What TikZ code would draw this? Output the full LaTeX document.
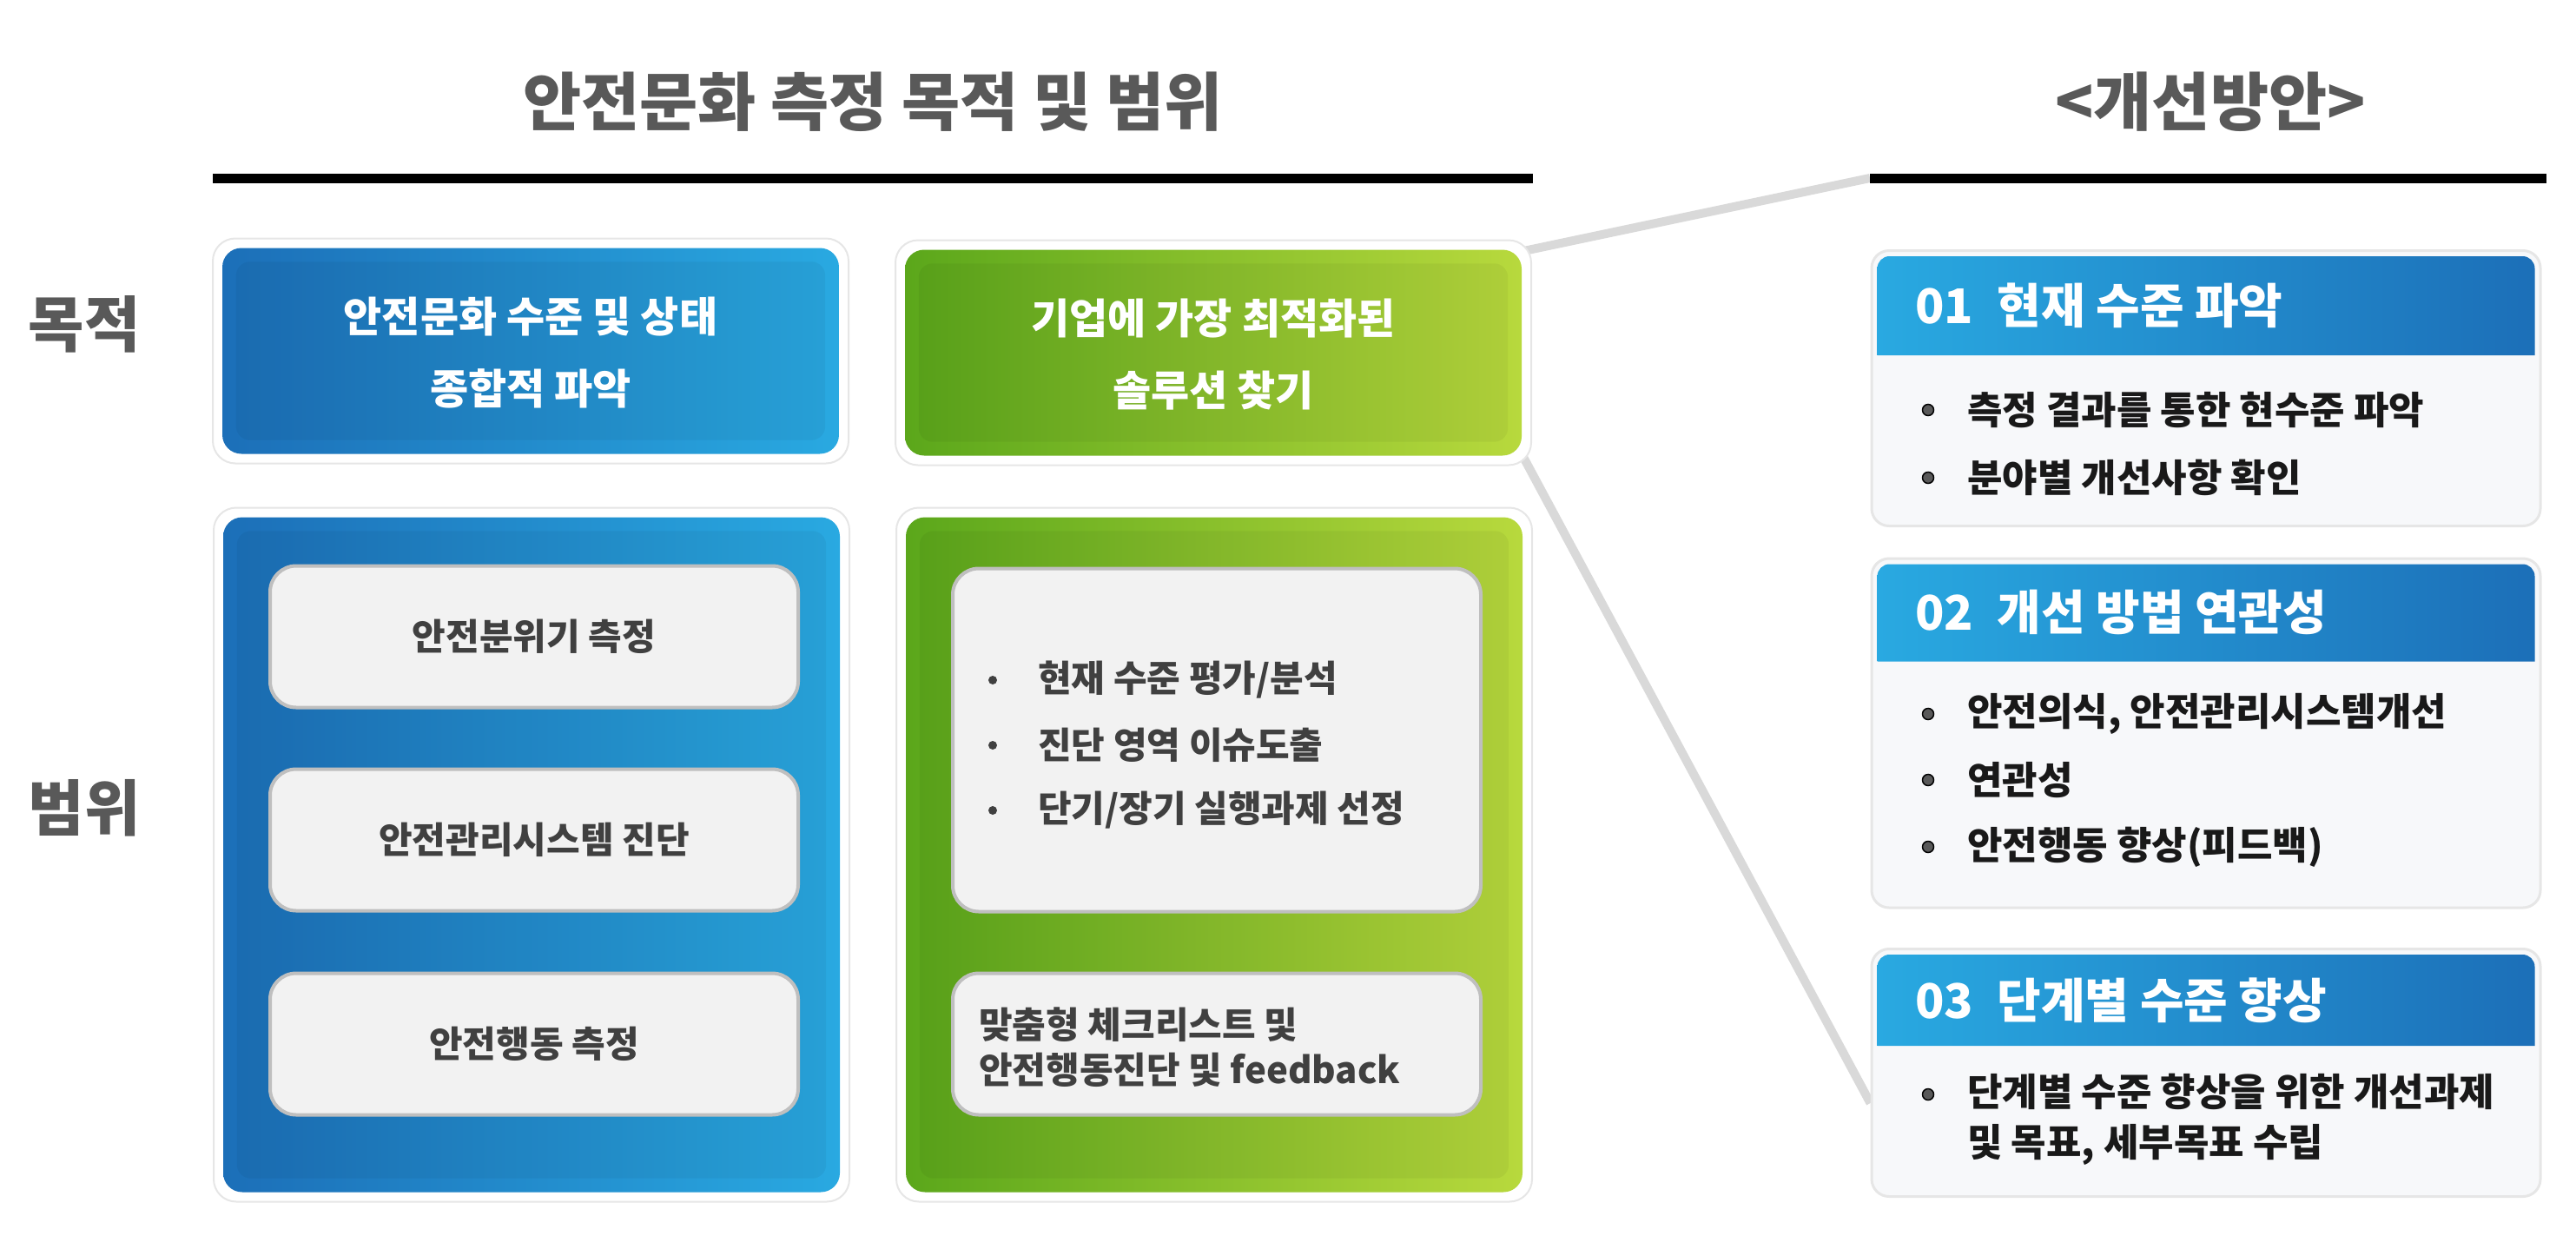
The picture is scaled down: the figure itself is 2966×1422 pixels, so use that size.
\documentclass[tikz,border=0pt]{standalone}
\usepackage{fontspec}
\setmainfont{Noto Sans CJK KR}
\usetikzlibrary{positioning}

\definecolor{titlegray}{HTML}{595959}
\definecolor{blueD}{HTML}{1C6FB8}
\definecolor{blueL}{HTML}{29A9E1}
\definecolor{greenD}{HTML}{5BA71B}
\definecolor{greenL}{HTML}{B8D93D}
\definecolor{itemfill}{HTML}{F2F2F2}
\definecolor{itemedge}{HTML}{BFBFBF}
\definecolor{cardedge}{HTML}{E6E6E6}
\definecolor{bodyfill}{HTML}{F7F8FA}
\definecolor{linkgray}{HTML}{D9D9D9}
\definecolor{itemtext}{HTML}{404040}

\pgfdeclarelayer{bg}
\pgfsetlayers{bg,main}

\tikzset{
  heading/.style={font=\bfseries\fontsize{73}{80}\selectfont, text=titlegray},
  rowlabel/.style={font=\bfseries\fontsize{70}{78}\selectfont, text=titlegray},
  rule/.style={line width=11pt, black},
  link/.style={line width=10pt, linkgray},
  card/.style={rounded corners=26pt, fill=white, draw=cardedge, line width=2pt, inner sep=0pt},
  bluebox/.style={rounded corners=22pt, left color=blueD, right color=blueL, inner sep=0pt},
  greenbox/.style={rounded corners=22pt, left color=greenD, right color=greenL, inner sep=0pt},
  panel/.style={rounded corners=16pt, fill=black, opacity=0.045},
  goal/.style={text=white, font=\bfseries\fontsize{48}{83}\selectfont, align=center},
  item/.style={rounded corners=30pt, fill=itemfill, draw=itemedge, line width=4pt,
    minimum width=608pt, minimum height=163pt, inner sep=0pt,
    text=itemtext, font=\bfseries\fontsize{42}{52}\selectfont},
  gdot/.style={circle, fill=itemtext, minimum size=10pt, inner sep=0pt},
  gtext/.style={anchor=west, text=itemtext, font=\bfseries\fontsize{42}{52}\selectfont, inner sep=0pt},
  plan/.style={rounded corners=20pt, fill=bodyfill, draw=cardedge, line width=3pt,
    minimum width=770pt, inner sep=0pt},
  planhead/.style={anchor=west, text=white, font=\bfseries\fontsize{55}{64}\selectfont, inner sep=0pt},
  rdot/.style={circle, fill=titlegray, draw=black, line width=1.5pt, minimum size=13pt, inner sep=0pt},
  rtext/.style={anchor=west, text=black!90, font=\bfseries\fontsize{44}{58}\selectfont, inner sep=0pt, align=left}
}

\begin{document}
\begin{tikzpicture}[x=1pt, y=-1pt]
  \useasboundingbox (0,0) rectangle (2966,1422);

  % headings and rules
  \node[heading] (title) at (1005,117) {안전문화 측정 목적 및 범위};
  \node[heading] (plantitle) at (2545,117) {<개선방안>};
  \draw[rule] (245,205) -- (1765,205);
  \coordinate (rstart) at (2153,205);
  \draw[rule] (rstart) -- (2932,205);

  \node[rowlabel] (goallabel) at (97,373) {목적};
  \node[rowlabel] (scopelabel) at (97,930) {범위};

  % purpose boxes
  \node[card, minimum width=732pt, minimum height=259pt] (p1c) at (611,404) {};
  \node[bluebox, minimum width=710pt, minimum height=237pt] (p1) at (611,404) {};
  \node[card, minimum width=732pt, minimum height=259pt] (p2c) at (1397,406) {};
  \node[greenbox, minimum width=710pt, minimum height=237pt] (p2) at (1397,406) {};

  % scope boxes
  \node[card, minimum width=732pt, minimum height=799pt] (s1c) at (612,984) {};
  \node[bluebox, minimum width=710pt, minimum height=777pt] (s1) at (612,984) {};
  \node[card, minimum width=732pt, minimum height=799pt] (s2c) at (1398,984) {};
  \node[greenbox, minimum width=710pt, minimum height=777pt] (s2) at (1398,984) {};

  \foreach \b in {p1,p2,s1,s2}
    \fill[panel] ([shift={(16,16)}]\b.north west) rectangle ([shift={(-16,-16)}]\b.south east);

  \node[goal] (p1t) at (611,406) {안전문화 수준 및 상태\\종합적 파악};
  \node[goal] (p2t) at (1397,408) {기업에 가장 최적화된\\솔루션 찾기};

  \node[item] (s1a) at (615,733) {안전분위기 측정};
  \node[item] (s1b) at (615,967) {안전관리시스템 진단};
  \node[item] (s1c2) at (615,1202) {안전행동 측정};

  \node[item, minimum height=395pt] (s2a) at (1401,852) {};
  \node[gdot] (d1) at (1143,783) {};
  \node[gtext] (t1) at (1195,783) {현재 수준 평가/분석};
  \node[gdot] (d2) at (1143,858) {};
  \node[gtext] (t2) at (1195,858) {진단 영역 이슈도출};
  \node[gdot] (d3) at (1143,933) {};
  \node[gtext] (t3) at (1195,933) {단기/장기 실행과제 선정};
  \node[item] (s2b) at (1401,1202) {};
  \node[gtext, align=left] (t4) at (1127,1206) {맞춤형 체크리스트 및\\안전행동진단 및 feedback};

  % improvement plans
  \node[plan, minimum height=317pt] (r1) at (2540,447) {};
  \node[plan, minimum height=402pt] (r2) at (2540,844) {};
  \node[plan, minimum height=285pt] (r3) at (2540,1235) {};
  \foreach \r/\h in {r1/114, r2/112, r3/105}{
    \shade[left color=blueL, right color=blueD]
      ([shift={(8,\h+8)}]\r.north west) [rounded corners=14pt]
      -- ([shift={(8,8)}]\r.north west) -- ([shift={(-8,8)}]\r.north east)
      [sharp corners] -- ([shift={(-8,\h+8)}]\r.north east) -- cycle;
  }
  \node[planhead] (r1h) at (2205,352) {01\enspace 현재 수준 파악};
  \node[planhead] (r2h) at (2205,705) {02\enspace 개선 방법 연관성};
  \node[planhead] (r3h) at (2205,1152) {03\enspace 단계별 수준 향상};

  \node[rdot] (r1d1) at (2220,472) {};
  \node[rtext] (r1t1) at (2265,472) {측정 결과를 통한 현수준 파악};
  \node[rdot] (r1d2) at (2220,550) {};
  \node[rtext] (r1t2) at (2265,550) {분야별 개선사항 확인};

  \node[rdot] (r2d1) at (2220,822) {};
  \node[rtext] (r2t1) at (2265,822) {안전의식, 안전관리시스템개선};
  \node[rdot] (r2d2) at (2220,898) {};
  \node[rtext] (r2t2) at (2265,898) {연관성};
  \node[rdot] (r2d3) at (2220,975) {};
  \node[rtext] (r2t3) at (2265,975) {안전행동 향상(피드백)};

  \node[rdot] (r3d1) at (2220,1260) {};
  \node[rtext] (r3t1) at (2265,1289) {단계별 수준 향상을 위한 개선과제\\및 목표, 세부목표 수립};

  % connectors to the plans, behind the cards
  \begin{pgfonlayer}{bg}
    \draw[link] ([shift={(-12,14)}]p2c.north east) -- (rstart);
    \draw[link] ([shift={(-12,-14)}]p2c.south east) -- ([shift={(0,35)}]r3.west);
  \end{pgfonlayer}
\end{tikzpicture}
\end{document}
